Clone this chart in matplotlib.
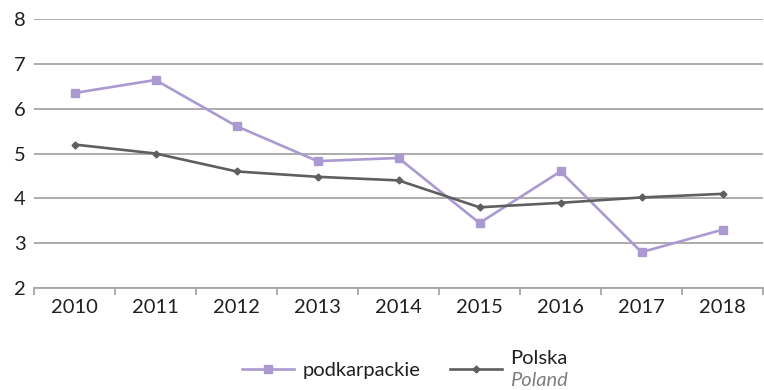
import matplotlib.pyplot as plt
import numpy as np

years = ['2010', '2011', '2012', '2013', '2014', '2015', '2016', '2017', '2018']
podkarpackie = [6.35, 6.64, 5.61, 4.83, 4.9, 3.45, 4.6, 2.8, 3.3]
polska = [5.2, 5.0, 4.6, 4.48, 4.4, 3.8, 3.9, 4.02, 4.1]

plt.rcParams['font.family'] = ['Lato', 'DejaVu Sans']

purple = '#ab9ad1'
grey = '#5f5f5f'
gridc = '#a6a6a6'
txt = '#231f20'
fs = 14.5

fig = plt.figure(figsize=(7.64, 3.9), dpi=100)
ax = fig.add_axes([34 / 764, 1 - 288 / 390, 729 / 764, 269 / 390])

x = np.arange(len(years))
l1, = ax.plot(x, podkarpackie, color=purple, lw=1.9, marker='s', ms=6, label='podkarpackie')
l2, = ax.plot(x, polska, color=grey, lw=1.9, marker='D', ms=3.5, label='Polska')

ax.set_xlim(-0.5, len(years) - 0.5)
ax.set_ylim(2, 8)
ax.set_yticks(range(2, 9))
ax.yaxis.grid(True, color=gridc, lw=1.3)
ax.set_axisbelow(True)

# category labels centred, tick marks on the boundaries
ax.set_xticks(x)
ax.set_xticklabels(years)
ax.set_xticks(np.arange(-0.5, len(years) + 0.5), minor=True)
ax.tick_params(axis='x', which='major', length=0, pad=8, labelsize=fs, labelcolor=txt)
ax.tick_params(axis='x', which='minor', length=5, color=gridc, width=1.3)
ax.tick_params(axis='y', length=0, pad=6, labelsize=fs, labelcolor=txt)

for s in ['top', 'right', 'left']:
    ax.spines[s].set_visible(False)
ax.spines['bottom'].set_color(gridc)
ax.spines['bottom'].set_linewidth(1.3)

# legend: two separate entries, the second one with a two-line bilingual label
ly = 1 - 370 / 390
fig.legend(handles=[l1], loc='center left', bbox_to_anchor=(242 / 764, ly),
           frameon=False, fontsize=fs, handlelength=2.6, handletextpad=0.4,
           borderpad=0, borderaxespad=0, labelcolor=txt)
fig.legend(handles=[l2], labels=[''], loc='center left', bbox_to_anchor=(450 / 764, ly),
           frameon=False, fontsize=fs, handlelength=2.6, handletextpad=0,
           borderpad=0, borderaxespad=0)
fig.text(510 / 764, 1 - 358 / 390, 'Polska', fontsize=fs, color=txt, va='center')
fig.text(510 / 764, 1 - 381 / 390, 'Poland', fontsize=fs, style='italic',
         color='#7f7f7f', va='center')

fig.savefig('out.png', dpi=100)
